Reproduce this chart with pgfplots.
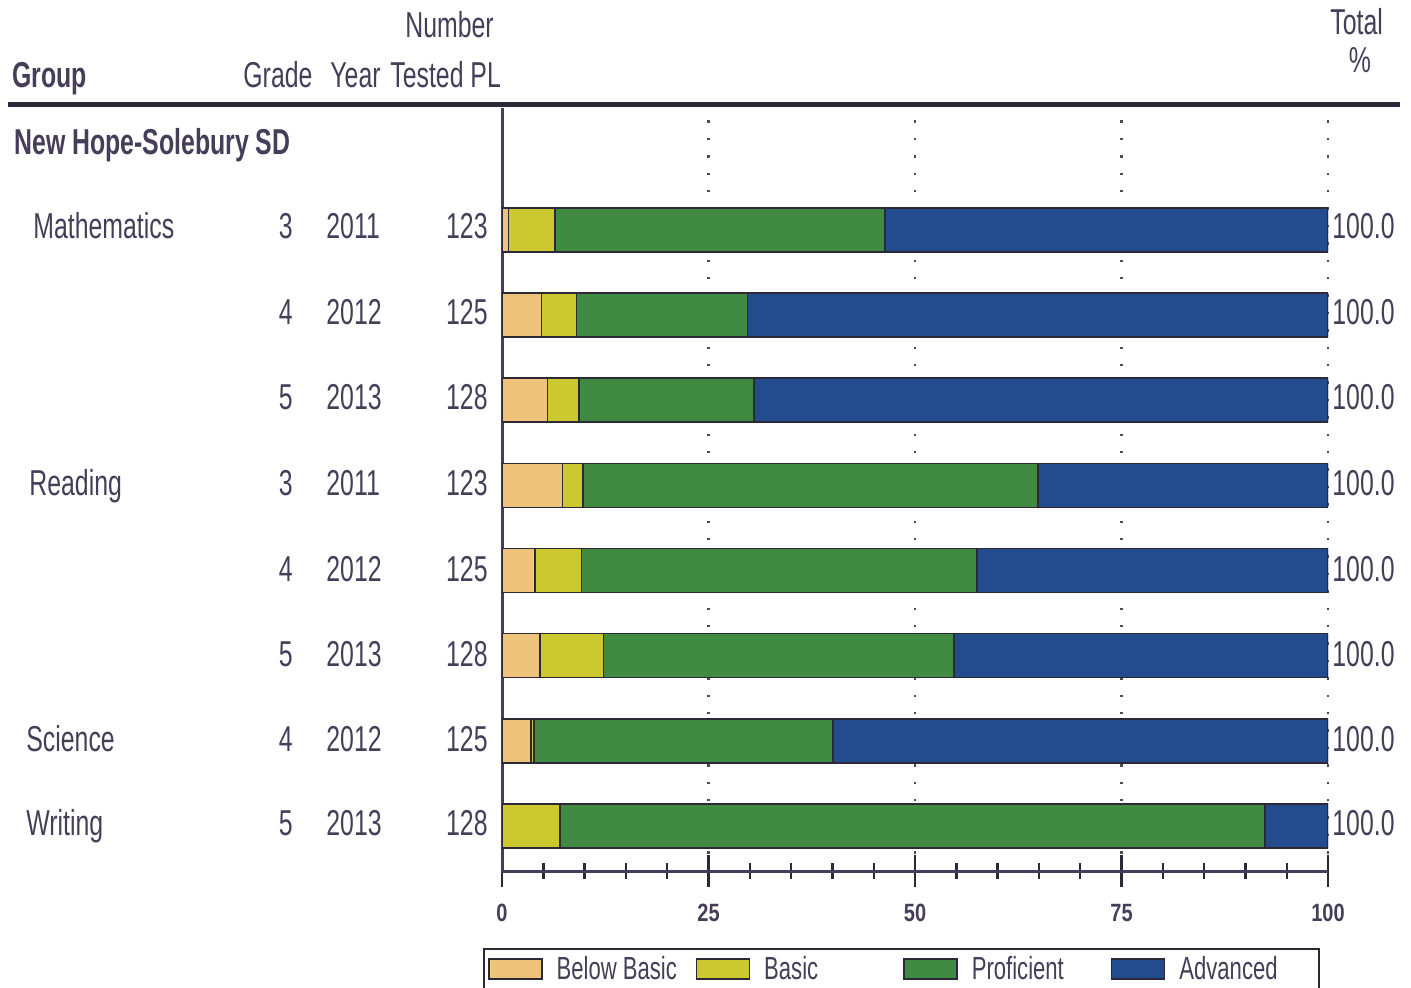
\documentclass[border=0pt]{standalone}
\usepackage{pgfplots}
\usepackage{pgfplotstable}
\pgfplotsset{compat=1.18}
\usepackage{fontspec}
\setmainfont{Liberation Sans}[FakeStretch=0.69]
\newfontfamily\tickfont{Liberation Sans}[FakeStretch=0.8]

\definecolor{labc}{RGB}{70,62,88}
\definecolor{bbc}{RGB}{238,196,125}
\definecolor{bc}{RGB}{204,200,48}
\definecolor{pc}{RGB}{64,138,66}
\definecolor{ac}{RGB}{34,76,142}
\definecolor{edge}{RGB}{45,40,55}

\pgfplotstableread{
row bb b p a
8 0.8 5.6 40.0 53.6
7 4.8 4.2 20.7 70.3
6 5.5 3.8 21.2 69.5
5 7.3 2.5 55.1 35.1
4 4.0 5.6 47.9 42.5
3 4.6 7.7 42.4 45.3
2 3.5 0.4 36.2 59.9
1 0.0 7.0 85.4 7.6
}\data

\pgfplotsset{
  myleg/.style={legend image code/.code={%
    \draw[##1, draw=edge, line width=0.8pt] (0pt,-5pt) rectangle (26.5pt,5pt);}},
}

\begin{document}
\begin{tikzpicture}
\useasboundingbox (0,0) rectangle (705.5pt,493.5pt);
\begin{axis}[
  at={(251pt,58pt)}, anchor=south west,
  scale only axis, width=413pt, height=381.5pt,
  xmin=0, xmax=100, ymin=0.47, ymax=9.433,
  xbar stacked, bar width=22pt,
  axis lines*=left,
  axis line style={draw=labc, line width=1.5pt},
  xtick={0,25,50,75,100},
  minor xtick={5,10,15,20,30,35,40,45,55,60,65,70,80,85,90,95},
  ytick=\empty,
  minor ytick={1.47,2.47,3.47,4.47,5.47,6.47,7.47,8.47},
  tick align=center,
  major tick length=16pt, minor tick length=8pt,
  tick style={draw=edge, line width=1.2pt},
  xmajorgrids=true,
  major grid style={draw=black!70, line width=1.2pt, dash pattern=on 1.2pt off 7.5pt},
  /pgf/number format/assume math mode=true,
  xticklabel style={font=\tickfont\bfseries\fontsize{12.5}{14}\selectfont, text=labc, yshift=-5pt},
  legend columns=4,
  legend style={at={(-0.023,-0.101)}, anchor=north west, draw=edge, line width=1pt,
    font=\fontsize{16}{18}\selectfont, text=labc, inner xsep=2pt, inner ysep=1.5pt,
    /tikz/every even column/.append style={column sep=5.5pt},
    /tikz/every odd column/.append style={column sep=5pt}},
  legend cell align=left,
]
\addplot[fill=bbc, draw=edge, line width=0.8pt, myleg] table[x=bb, y=row]{\data};
\addlegendentry{\makebox[62pt][l]{Below Basic}}
\addplot[fill=bc, draw=edge, line width=0.8pt, myleg] table[x=b, y=row]{\data};
\addlegendentry{\makebox[62pt][l]{Basic}}
\addplot[fill=pc, draw=edge, line width=0.8pt, myleg] table[x=p, y=row]{\data};
\addlegendentry{\makebox[62pt][l]{Proficient}}
\addplot[fill=ac, draw=edge, line width=0.8pt, myleg] table[x=a, y=row]{\data};
\addlegendentry{\makebox[66pt][l]{Advanced}}
\end{axis}

\begin{scope}[x=0.5pt, y=-0.5pt, yshift=493.5pt, every node/.style={text=labc, inner sep=0pt, font=\fontsize{18}{20}\selectfont}]
  % header
  \node[anchor=base west, font=\bfseries\fontsize{18}{20}\selectfont] at (12,88) {Group};
  \node[anchor=base west] at (243,88) {Grade};
  \node[anchor=base west] at (330,88) {Year};
  \node[anchor=base west] at (390,88) {Tested PL};
  \node[anchor=base west] at (405,38) {Number};
  \node[anchor=base west] at (1330,35) {Total};
  \node[anchor=base] at (1360,73) {\%};
  \draw[draw=edge, line width=2.5pt] (8,105) -- (1400,105);
  \node[anchor=base west, font=\bfseries\fontsize{18}{20}\selectfont] at (14,155) {New Hope-Solebury SD};
  % group names
  \node[anchor=base west] at (33,239) {Mathematics};
  \node[anchor=base west] at (29,495) {Reading};
  \node[anchor=base west] at (26,751) {Science};
  \node[anchor=base west] at (26,835) {Writing};
  % grade / year / number / total
  \foreach \yb/\g/\yr/\n in {239/3/2011/123, 324/4/2012/125, 409/5/2013/128, 495/3/2011/123, 581/4/2012/125, 666/5/2013/128, 751/4/2012/125, 835/5/2013/128}{
    \node[anchor=base east] at (293,\yb) {\g};
    \node[anchor=base west] at (326,\yb) {\yr};
    \node[anchor=base east] at (488,\yb) {\n};
    \node[anchor=base west] at (1332,\yb) {100.0};
  }
\end{scope}
\end{tikzpicture}
\end{document}
